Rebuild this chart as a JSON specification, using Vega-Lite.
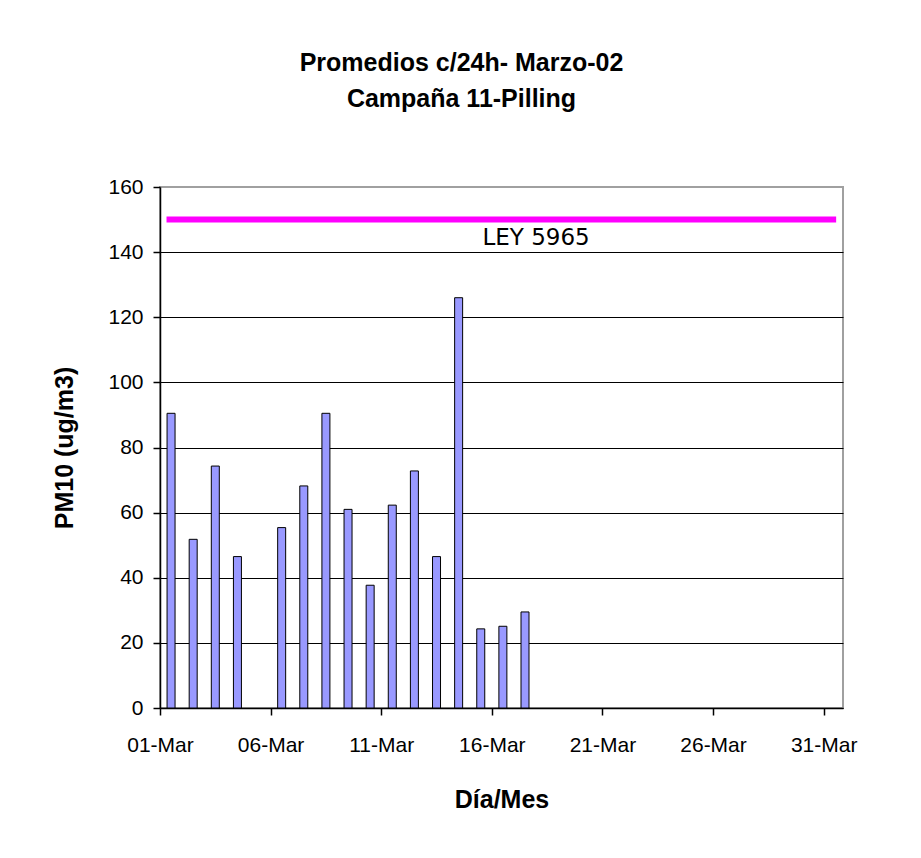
{
  "$schema": "https://vega.github.io/schema/vega-lite/v6.json",
  "width": 683,
  "height": 521,
  "autosize": {"type": "none"},
  "padding": {"left": 160, "top": 187, "right": 78, "bottom": 150},
  "background": "white",
  "title": {
    "text": ["Promedios c/24h- Marzo-02", "Campaña 11-Pilling"],
    "font": "Liberation Sans",
    "fontSize": 25,
    "fontWeight": "bold",
    "lineHeight": 36,
    "anchor": "middle",
    "dx": -40,
    "offset": 64,
    "color": "black"
  },
  "datasets": {
    "pm10": [
      {"fecha": "2002-03-01", "pm10": 90.5},
      {"fecha": "2002-03-02", "pm10": 51.8},
      {"fecha": "2002-03-03", "pm10": 74.3},
      {"fecha": "2002-03-04", "pm10": 46.5},
      {"fecha": "2002-03-06", "pm10": 55.4},
      {"fecha": "2002-03-07", "pm10": 68.2},
      {"fecha": "2002-03-08", "pm10": 90.5},
      {"fecha": "2002-03-09", "pm10": 61.0},
      {"fecha": "2002-03-10", "pm10": 37.7},
      {"fecha": "2002-03-11", "pm10": 62.3},
      {"fecha": "2002-03-12", "pm10": 72.8},
      {"fecha": "2002-03-13", "pm10": 46.5},
      {"fecha": "2002-03-14", "pm10": 126.0},
      {"fecha": "2002-03-15", "pm10": 24.3},
      {"fecha": "2002-03-16", "pm10": 25.1},
      {"fecha": "2002-03-17", "pm10": 29.5}
    ],
    "ley": [
      {"fecha": "2002-03-01", "valor": 150},
      {"fecha": "2002-03-31", "valor": 150}
    ],
    "etiqueta": [
      {"fecha": "2002-03-18", "valor": 150, "texto": "LEY 5965"}
    ]
  },
  "layer": [
    {
      "data": {"name": "pm10"},
      "mark": {"type": "bar", "width": 8, "fill": "#9999ff", "stroke": "black", "strokeWidth": 1},
      "encoding": {
        "x": {
          "field": "fecha",
          "type": "temporal",
          "timeUnit": "utcyearmonthdate",
          "bandPosition": 0.43,
          "scale": {
            "type": "utc",
            "domain": [
              {"year": 2002, "month": "mar", "date": 1, "utc": true},
              {"year": 2002, "month": "mar", "date": 31, "hours": 21, "utc": true}
            ]
          },
          "axis": {
            "values": [
              {"year": 2002, "month": "mar", "date": 1, "utc": true},
              {"year": 2002, "month": "mar", "date": 6, "utc": true},
              {"year": 2002, "month": "mar", "date": 11, "utc": true},
              {"year": 2002, "month": "mar", "date": 16, "utc": true},
              {"year": 2002, "month": "mar", "date": 21, "utc": true},
              {"year": 2002, "month": "mar", "date": 26, "utc": true},
              {"year": 2002, "month": "mar", "date": 31, "utc": true}
            ],
            "format": "%d-%b",
            "grid": false,
            "title": "Día/Mes",
            "labelFlush": false,
            "labelOverlap": false,
            "labelFontSize": 21,
            "labelDx": 4,
            "labelPadding": 19,
            "titlePadding": 32
          }
        },
        "y": {
          "field": "pm10",
          "type": "quantitative",
          "scale": {"domain": [0, 160], "nice": false},
          "axis": {
            "values": [0, 20, 40, 60, 80, 100, 120, 140, 160],
            "grid": true,
            "gridColor": {"condition": {"test": "datum.value === 160", "value": "#a0a0a0"}, "value": "black"},
            "gridOpacity": 1,
            "title": "PM10 (ug/m3)",
            "labelFontSize": 21,
            "labelPadding": 10,
            "titlePadding": 30
          }
        }
      }
    },
    {
      "data": {"name": "ley"},
      "mark": {"type": "line", "color": "#ff00ff", "strokeWidth": 6, "strokeCap": "square"},
      "encoding": {
        "x": {"field": "fecha", "type": "temporal", "timeUnit": "utcyearmonthdate", "bandPosition": 0.43},
        "y": {"field": "valor", "type": "quantitative"}
      }
    },
    {
      "data": {"name": "etiqueta"},
      "mark": {"type": "text", "font": "DejaVu Sans", "fontSize": 23, "dy": 25, "baseline": "alphabetic", "align": "center", "color": "black"},
      "encoding": {
        "x": {"field": "fecha", "type": "temporal", "timeUnit": "utcyearmonthdate", "bandPosition": 0},
        "y": {"field": "valor", "type": "quantitative"},
        "text": {"field": "texto"}
      }
    }
  ],
  "config": {
    "view": {"stroke": "#a0a0a0", "strokeWidth": 2},
    "axis": {
      "domainColor": "black",
      "domainWidth": 1.5,
      "tickColor": "black",
      "tickSize": 7,
      "tickWidth": 1.5,
      "labelFont": "Liberation Sans",
      "labelColor": "black",
      "titleFont": "Liberation Sans",
      "titleFontSize": 25,
      "titleFontWeight": "bold",
      "titleColor": "black"
    }
  }
}
